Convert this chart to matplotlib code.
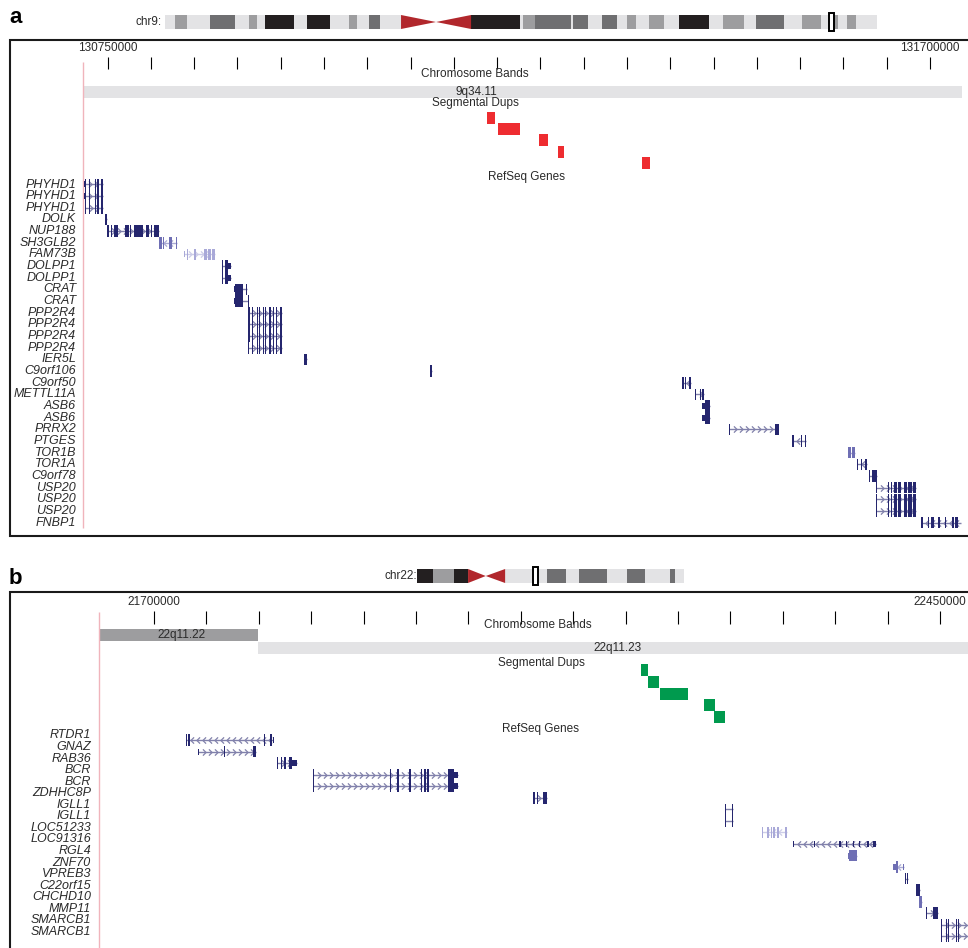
import numpy as np
import matplotlib
matplotlib.use("Agg")
import matplotlib.pyplot as plt
from matplotlib.patches import Rectangle, Polygon
from matplotlib.path import Path
from matplotlib.colors import to_rgb

plt.rcParams['font.family'] = ['Liberation Sans', 'DejaVu Sans']

# ---------------- panel a : chr9 (positions in kb) ----------------
a_view = (130721.7, 131736.9)
a_ruler = (130750, 131700, 50)
a_band_names = ['9q34.11']
a_band_start = [130300]
a_band_end = [133500]
a_band_stain = ['gneg']

a_dup_start = [131188.3, 131201.0, 131248.4, 131270.3, 131367.3]
a_dup_end = [131197.6, 131226.4, 131258.8, 131277.3, 131376.6]
a_dup_row = [0, 1, 2, 3, 4]

a_names = ['PHYHD1', 'PHYHD1', 'PHYHD1', 'DOLK', 'NUP188', 'SH3GLB2', 'FAM73B', 'DOLPP1', 'DOLPP1',
           'CRAT', 'CRAT', 'PPP2R4', 'PPP2R4', 'PPP2R4', 'PPP2R4', 'IER5L', 'C9orf106', 'C9orf50',
           'METTL11A', 'ASB6', 'ASB6', 'PRRX2', 'PTGES', 'TOR1B', 'TOR1A', 'C9orf78', 'USP20', 'USP20',
           'USP20', 'FNBP1']
a_start = [130722.9, 130722.9, 130724.4, 130747.1, 130749.4, 130809.5, 130838.4, 130882.6, 130882.6,
           130896.5, 130896.5, 130912.6, 130912.6, 130912.6, 130912.6, 130977.3, 131122.5, 131413.5,
           131428.6, 131436.7, 131436.7, 131468.2, 131541.0, 131605.3, 131615.7, 131629.9, 131638.0,
           131638.0, 131638.0, 131689.0]
a_end = [130744.5, 130744.5, 130744.5, 130749.1, 130809.1, 130829.9, 130874.2, 130892.6, 130892.6,
         130911.2, 130912.6, 130951.5, 130951.5, 130951.5, 130951.5, 130980.8, 131124.8, 131423.6,
         131438.6, 131445.7, 131445.7, 131524.4, 131556.4, 131613.4, 131627.2, 131638.7, 131683.8,
         131683.8, 131683.8, 131736.0]
a_strand = ['+', '+', '+', '-', '+', '-', '+', '+', '+', '-', '-', '+', '+', '+', '+', '-', '+', '-',
            '+', '-', '-', '+', '-', '+', '-', '+', '+', '+', '+', '-']
a_status = ['reviewed'] * 30
a_status[5] = 'provisional'
a_status[6] = 'predicted'
a_status[23] = 'provisional'

phyhd1 = [(130724.4, 130725.3), (130728.6, 130729.4), (130735.2, 130736.0), (130737.9, 130739.8),
          (130742.1, 130744.5)]
ppp2r4 = [(130916.5, 130917.3), (130922.3, 130923.1), (130924.6, 130925.4), (130929.6, 130930.8),
          (130931.9, 130932.7), (130936.2, 130938.8), (130941.1, 130941.9), (130945.0, 130945.8),
          (130949.6, 130951.5)]
usp20 = [(131638.0, 131638.8), (131651.4, 131652.2), (131654.5, 131655.3), (131658.4, 131662.2),
         (131663.4, 131666.8), (131669.6, 131673.0), (131674.9, 131679.5), (131680.7, 131683.8)]
a_exons = [
    phyhd1, phyhd1, phyhd1,
    [(130747.1, 130749.1)],
    [(130749.4, 130751.4), (130754.0, 130755.2), (130757.5, 130762.1), (130770.2, 130774.8),
     (130776.4, 130777.2), (130780.6, 130791.0), (130794.1, 130797.9), (130799.9, 130801.7),
     (130803.7, 130809.1)],
    [(130809.5, 130812.6), (130814.4, 130815.6), (130821.4, 130824.2), (130829.1, 130829.9)],
    [(130842.2, 130843.0), (130849.9, 130852.2), (130861.1, 130864.6), (130866.4, 130869.5),
     (130870.7, 130874.2)],
    [(130882.6, 130883.4), (130885.7, 130889.2)],
    [(130882.6, 130883.4), (130885.7, 130889.2)],
    [(130897.3, 130906.5), (130910.4, 130911.2)],
    [(130897.3, 130906.5), (130911.8, 130912.6)],
    [(130912.6, 130914.6)] + ppp2r4, [(130912.6, 130914.6)] + ppp2r4,
    [(130912.6, 130914.6)] + ppp2r4, [(130912.6, 130913.4)] + ppp2r4,
    [(130977.3, 130980.8)],
    [(131122.5, 131124.8)],
    [(131413.5, 131415.5), (131417.3, 131418.1), (131421.6, 131423.6)],
    [(131428.6, 131429.4), (131434.0, 131434.8), (131436.7, 131438.6)],
    [(131440.2, 131445.7)],
    [(131440.2, 131445.7)],
    [(131468.2, 131469.0), (131521.0, 131523.3), (131523.8, 131524.4)],
    [(131541.0, 131542.6), (131551.0, 131551.8), (131555.2, 131556.4)],
    [(131605.3, 131608.4), (131609.9, 131613.4)],
    [(131615.7, 131616.5), (131620.2, 131621.0), (131625.3, 131627.2)],
    [(131629.9, 131630.7), (131632.6, 131638.7)],
    usp20, usp20, usp20,
    [(131689.0, 131691.6), (131697.5, 131698.3), (131701.6, 131702.4), (131703.6, 131704.4),
     (131709.7, 131710.5), (131717.4, 131718.2), (131725.1, 131727.1), (131728.6, 131729.4),
     (131730.5, 131731.3)],
]
a_utrs = [[] for _ in a_names]
a_utrs[0] = [(130722.9, 130724.4)]
a_utrs[1] = [(130722.9, 130724.4)]
a_utrs[6] = [(130838.4, 130839.9)]
a_utrs[7] = [(130889.2, 130892.6)]
a_utrs[8] = [(130889.2, 130892.6)]
a_utrs[9] = [(130896.5, 130897.3)]
a_utrs[10] = [(130896.5, 130897.3)]
a_utrs[19] = [(131436.7, 131440.2)]
a_utrs[20] = [(131436.7, 131440.2)]

# chr9 ideogram (Mb)
chr9_len = 140.27
chr9_cen = (46.5, 53.4, 60.3)
chr9_band_start = [1.97, 8.87, 16.5, 19.7, 28.0, 36.2, 40.2, 60.3, 70.5, 72.9, 80.4, 86.1, 91.0, 95.3,
                   101.3, 109.9, 116.4, 125.5, 131.7, 134.3]
chr9_band_end = [4.33, 13.79, 18.1, 25.4, 32.5, 37.8, 42.4, 69.9, 72.9, 80.0, 83.3, 89.0, 92.8, 98.3,
                 107.2, 114.1, 121.9, 129.2, 132.5, 136.1]
chr9_band_stain = ['gpos50', 'gpos75', 'gpos50', 'gpos100', 'gpos100', 'gpos50', 'gpos75', 'gvar',
                   'gpos50', 'gpos75', 'gpos75', 'gpos75', 'gpos50', 'gpos50', 'gpos100', 'gpos50',
                   'gpos75', 'gpos50', 'gpos50', 'gpos50']

# ---------------- panel b : chr22 (positions in kb) ----------------
b_view = (21647.5, 22476.6)
b_ruler = (21700, 22450, 50)
b_band_names = ['22q11.22', '22q11.23']
b_band_start = [20900, 21799]
b_band_end = [21799, 23700]
b_band_stain = ['gpos50', 'gneg']
b_band_row = [0, 1]

b_dup_start = [22164.6, 22171.3, 22182.7, 22224.7, 22234.2]
b_dup_end = [22171.3, 22181.8, 22209.4, 22235.2, 22244.7]
b_dup_row = [0, 1, 2, 3, 4]

b_names = ['RTDR1', 'GNAZ', 'RAB36', 'BCR', 'BCR', 'ZDHHC8P', 'IGLL1', 'IGLL1', 'LOC51233', 'LOC91316',
           'RGL4', 'ZNF70', 'VPREB3', 'C22orf15', 'CHCHD10', 'MMP11', 'SMARCB1', 'SMARCB1']
b_start = [21730.6, 21742.0, 21817.6, 21851.6, 21851.6, 22061.6, 22244.7, 22244.7, 22280.0, 22309.9,
           22362.1, 22405.0, 22416.5, 22427.0, 22429.8, 22436.5, 22450.6, 22450.6]
b_end = [21813.8, 21797.0, 21836.1, 21989.7, 21989.7, 22074.6, 22252.0, 22252.0, 22303.6, 22388.8,
         22370.7, 22415.2, 22419.1, 22430.8, 22432.7, 22448.0, 22478.0, 22478.0]
b_strand = ['-', '+', '+', '+', '+', '+', '-', '-', '-', '-', '+', '-', '+', '+', '-', '+', '+', '+']
b_status = ['reviewed'] * 18
b_status[8] = 'predicted'
b_status[10] = 'provisional'
b_status[11] = 'provisional'
b_status[14] = 'provisional'

bcr = [(21851.6, 21852.4), (21925.0, 21925.8), (21932.1, 21933.4), (21943.3, 21945.5), (21954.6, 21955.4),
       (21957.9, 21959.5), (21960.2, 21962.1), (21980.8, 21986.2)]
smarcb1 = [(22450.6, 22451.5), (22455.6, 22456.4), (22457.2, 22458.0), (22465.1, 22465.9),
           (22467.3, 22468.1)]
b_exons = [
    [(21730.6, 21731.2), (21732.0, 21732.6), (21733.3, 21733.9), (21804.8, 21805.6), (21810.7, 21812.3)],
    [(21766.7, 21767.5), (21794.4, 21797.0)],
    [(21817.6, 21818.6), (21821.2, 21822.1), (21824.0, 21825.9), (21829.1, 21831.9)],
    bcr, bcr,
    [(22061.6, 22063.5), (22065.0, 22065.8), (22071.1, 22074.6)],
    [(22244.7, 22245.5), (22251.1, 22252.0)],
    [(22244.7, 22245.5), (22251.1, 22252.0)],
    [(22280.0, 22280.8), (22285.1, 22287.0), (22288.3, 22289.6), (22290.8, 22292.4), (22294.6, 22296.5),
     (22302.3, 22303.6)],
    [],
    [(22363.3, 22370.7)],
    [(22407.9, 22409.8)],
    [(22416.5, 22417.2), (22418.4, 22419.1)],
    [(22427.0, 22430.8)],
    [(22429.8, 22432.7)],
    [(22436.5, 22437.2), (22443.2, 22448.0)],
    smarcb1, smarcb1,
]
b_utrs = [[] for _ in b_names]
b_utrs[0] = [(21813.2, 21813.8)]
b_utrs[1] = [(21742.0, 21742.6)]
b_utrs[2] = [(21831.9, 21836.1)]
b_utrs[3] = [(21986.2, 21989.7)]
b_utrs[4] = [(21986.2, 21989.7)]
b_utrs[9] = [(22309.9, 22310.7), (22329.5, 22330.3), (22354.0, 22354.8), (22360.4, 22361.2),
             (22366.6, 22367.8), (22372.5, 22373.3), (22380.5, 22381.8), (22386.2, 22388.8)]
b_utrs[10] = [(22362.1, 22363.3)]
b_utrs[11] = [(22405.0, 22407.9), (22414.4, 22415.2)]

# chr22 ideogram (Mb)
chr22_len = 49.69
chr22_cen = (9.5, 12.8, 16.4)
chr22_band_start = [0.0, 3.0, 6.9, 24.2, 30.1, 39.0, 47.1]
chr22_band_end = [3.0, 6.9, 9.5, 27.7, 35.3, 42.5, 48.0]
chr22_band_stain = ['gvar', 'stalk', 'gvar', 'gpos75', 'gpos75', 'gpos75', 'gpos75']

# ---------------- drawing ----------------
W, H = 968, 948
status_col = {'reviewed': '#25266e', 'provisional': '#6f6fb4', 'predicted': '#a9a9d8'}
stain_col = {'gneg': '#e3e3e5', 'gpos25': '#c4c4c6', 'gpos50': '#9d9d9f', 'gpos75': '#6f6f71',
             'gpos100': '#231f20', 'gvar': '#231f20', 'stalk': '#9d9d9f'}
txt_col = '#2a2a2a'
FS = 8.5


def tint(c, f=0.42):
    r = np.array(to_rgb(c))
    return tuple(r + (1 - r) * f)


CHEV_R = Path([(-0.5, 1), (0.5, 0), (-0.5, -1)], [Path.MOVETO, Path.LINETO, Path.LINETO])
CHEV_L = Path([(0.5, 1), (-0.5, 0), (0.5, -1)], [Path.MOVETO, Path.LINETO, Path.LINETO])

fig = plt.figure(figsize=(W / 100, H / 100), dpi=100)
# transparent overlay in pixel units, on top, for frames and text
ov = fig.add_axes([0, 0, 1, 1], zorder=3)
ov.set_xlim(0, W)
ov.set_ylim(H, 0)
ov.axis('off')


def px_axes(x0, x1, y0, y1):
    a = fig.add_axes([x0 / W, 1 - y1 / H, (x1 - x0) / W, (y1 - y0) / H], zorder=1)
    a.axis('off')
    return a


def ideogram(x0, x1, y0, y1, length, cen, starts, ends, stains, view):
    ax = px_axes(x0, x1, y0, y1)
    ax.set_xlim(0, length)
    ax.set_ylim(0, 1)
    ax.add_patch(Rectangle((0, 0), cen[0], 1, fc=stain_col['gneg'], ec='none'))
    ax.add_patch(Rectangle((cen[2], 0), length - cen[2], 1, fc=stain_col['gneg'], ec='none'))
    for s, e, st in zip(starts, ends, stains):
        ax.add_patch(Rectangle((s, 0), e - s, 1, fc=stain_col[st], ec='none'))
    ax.add_patch(Polygon([(cen[0], 1), (cen[0], 0), (cen[1], 0.5)], fc='#b1272c', ec='none'))
    ax.add_patch(Polygon([(cen[2], 1), (cen[2], 0), (cen[1], 0.5)], fc='#b1272c', ec='none'))
    ax.add_patch(Rectangle((view[0] / 1000, -0.12), (view[1] - view[0]) / 1000, 1.24,
                           fc='white', ec='black', lw=1.4, clip_on=False, zorder=5))


def draw_genes(ax, ys, starts, ends, strands, status, exons, utrs, pxkb):
    step = 6.0 / pxkb
    minw = 1.1 / pxkb
    for y, s, e, sd, st, ex, ut in zip(ys, starts, ends, strands, status, exons, utrs):
        col = status_col[st]
        lt = tint(col)
        ax.plot([s, e], [y, y], color=lt, lw=1.0, zorder=2, solid_capstyle='butt')
        xs = np.arange(s + step, e - step * 0.4, step)
        if len(xs):
            ax.plot(xs, np.full(len(xs), y), ls='none', marker=CHEV_R if sd == '+' else CHEV_L,
                    ms=4.5, mfc='none', mec=lt, mew=0.9, zorder=2)
        for a0, a1 in ex:
            ax.add_patch(Rectangle((a0, y - 5.8), max(a1 - a0, minw), 11.6, fc=col, ec='none', zorder=3))
        for a0, a1 in ut:
            ax.add_patch(Rectangle((a0, y - 3.0), max(a1 - a0, minw), 6.0, fc=col, ec='none', zorder=3))


def ruler(ax, rng, y_lab, y0, y1):
    ticks = np.arange(rng[0], rng[1] + 1, rng[2])
    ax.vlines(ticks, y0, y1, color='black', lw=0.8)
    for t in (ticks[0], ticks[-1]):
        ax.text(t, y_lab, '%d' % (t * 1000), ha='center', va='center', fontsize=FS, color=txt_col)


# ---- panel a ----
ov.text(9, 17, 'a', fontsize=16, fontweight='bold', ha='left', va='center')
ov.text(162, 22, 'chr9:', fontsize=FS, ha='right', va='center', color=txt_col)
ideogram(165, 877, 15, 29, chr9_len, chr9_cen, chr9_band_start, chr9_band_end, chr9_band_stain, a_view)
ov.plot([968, 10, 10, 968], [40, 40, 536, 536], color='#1a1a1a', lw=1.5, solid_joinstyle='miter')

axa = px_axes(83, 962, 40, 536)
axa.set_xlim(*a_view)
axa.set_ylim(536, 40)
pxkb_a = (962 - 83) / (a_view[1] - a_view[0])
ruler(axa, a_ruler, 48, 57, 69)
axa.vlines(a_view[0], 62, 528, color='#f0b4bc', lw=1.0, clip_on=False)
for nm, s, e, st in zip(a_band_names, a_band_start, a_band_end, a_band_stain):
    axa.add_patch(Rectangle((s, 86), e - s, 12, fc=stain_col[st], ec='none'))
ov.text(476, 92, a_band_names[0], ha='center', va='center', fontsize=FS, color=txt_col)
for s, e, r in zip(a_dup_start, a_dup_end, a_dup_row):
    axa.add_patch(Rectangle((s, 112 + 11.2 * r), e - s, 12, fc='#ee2c30', ec='none'))
ya = 184.5 + 11.66 * np.arange(len(a_names))
draw_genes(axa, ya, a_start, a_end, a_strand, a_status, a_exons, a_utrs, pxkb_a)
ov.text(475, 74, 'Chromosome Bands', ha='center', va='center', fontsize=FS, color=txt_col)
ov.text(475, 103, 'Segmental Dups', ha='center', va='center', fontsize=FS, color=txt_col)
ov.text(526, 177, 'RefSeq Genes', ha='center', va='center', fontsize=FS, color=txt_col)
for nm, y in zip(a_names, ya):
    ov.text(76, y, nm, ha='right', va='center', fontsize=9, style='italic', color=txt_col)

# ---- panel b ----
ov.text(9, 578, 'b', fontsize=16, fontweight='bold', ha='left', va='center')
ov.text(417, 576, 'chr22:', fontsize=FS, ha='right', va='center', color=txt_col)
ideogram(417, 684, 569, 583, chr22_len, chr22_cen, chr22_band_start, chr22_band_end, chr22_band_stain,
         b_view)
ov.plot([968, 10, 10], [592, 592, 948], color='#1a1a1a', lw=1.5, solid_joinstyle='miter')

axb = px_axes(99, 968, 592, 948)
axb.set_xlim(*b_view)
axb.set_ylim(948, 592)
pxkb_b = (968 - 99) / (b_view[1] - b_view[0])
ruler(axb, b_ruler, 602, 611, 624)
axb.vlines(b_view[0], 612, 948, color='#f0b4bc', lw=1.0, clip_on=False)
for s, e, st, r in zip(b_band_start, b_band_end, b_band_stain, b_band_row):
    axb.add_patch(Rectangle((s, 629 + 13 * r), e - s, 12, fc=stain_col[st], ec='none'))
ov.text(182, 635, b_band_names[0], ha='center', va='center', fontsize=FS, color=txt_col)
ov.text(617, 648, b_band_names[1], ha='center', va='center', fontsize=FS, color=txt_col)
for s, e, r in zip(b_dup_start, b_dup_end, b_dup_row):
    axb.add_patch(Rectangle((s, 664 + 11.8 * r), e - s, 12, fc='#009a4e', ec='none'))
yb = 740 + 11.55 * np.arange(len(b_names))
draw_genes(axb, yb, b_start, b_end, b_strand, b_status, b_exons, b_utrs, pxkb_b)
ov.text(538, 625, 'Chromosome Bands', ha='center', va='center', fontsize=FS, color=txt_col)
ov.text(541, 663, 'Segmental Dups', ha='center', va='center', fontsize=FS, color=txt_col)
ov.text(541, 729, 'RefSeq Genes', ha='center', va='center', fontsize=FS, color=txt_col)
for nm, y in zip(b_names, yb - 4.5):
    ov.text(91, y, nm, ha='right', va='center', fontsize=9, style='italic', color=txt_col)

fig.savefig('out.png', dpi=100)
